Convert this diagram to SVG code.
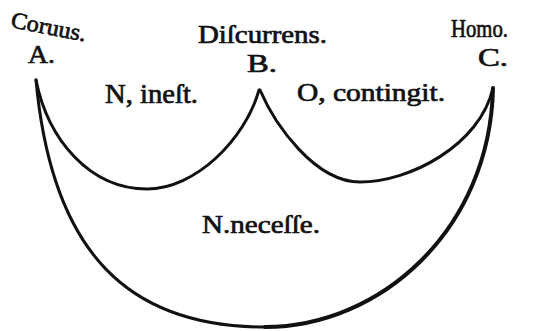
<svg xmlns="http://www.w3.org/2000/svg" width="537" height="331" viewBox="0 0 537 331">
<style>
.t{font-family:"Liberation Serif","Times New Roman",serif;font-weight:normal;fill:#111;stroke:#111;stroke-width:0.7;}
.arc{fill:none;stroke:#111;stroke-width:3;stroke-linecap:round;stroke-linejoin:round;}
</style>
<rect width="537" height="331" fill="#fff"/>
<g id="connectors">
<path class="arc" d="M36,80 C48,140 90,189 147,189 C195,189 245,140 259,90"/>
<path class="arc" d="M260,90 C275,125 315,182 360,182 C410,182 480,145 493,88"/>
<path class="arc" d="M36,80 C52,255 130,327 265,327"/>
<path class="arc" style="stroke-width:4" d="M265,327 C380,327 490,230 493,88"/>
<text class="t" x="105" y="103" font-size="27" textLength="93" lengthAdjust="spacingAndGlyphs">N, ineſt.</text>
<text class="t" x="297" y="101" font-size="25" textLength="148" lengthAdjust="spacingAndGlyphs">O, contingit.</text>
<text class="t" x="202" y="233" font-size="26" textLength="118" lengthAdjust="spacingAndGlyphs">N.neceſſe.</text>
</g>
<g id="node-A">
<text class="t" x="10" y="27" font-size="23" textLength="76" lengthAdjust="spacingAndGlyphs" transform="rotate(11 10 27)">Coruus.</text>
<text class="t" x="28" y="63" font-size="26" textLength="27" lengthAdjust="spacingAndGlyphs">A.</text>
</g>
<g id="node-B">
<text class="t" x="198" y="43" font-size="25" textLength="129" lengthAdjust="spacingAndGlyphs">Diſcurrens.</text>
<text class="t" x="247" y="72" font-size="25" textLength="30" lengthAdjust="spacingAndGlyphs">B.</text>
</g>
<g id="node-C">
<text class="t" x="451" y="37" font-size="26" textLength="57" lengthAdjust="spacingAndGlyphs">Homo.</text>
<text class="t" x="478" y="66" font-size="25" textLength="30" lengthAdjust="spacingAndGlyphs">C.</text>
</g>
</svg>
